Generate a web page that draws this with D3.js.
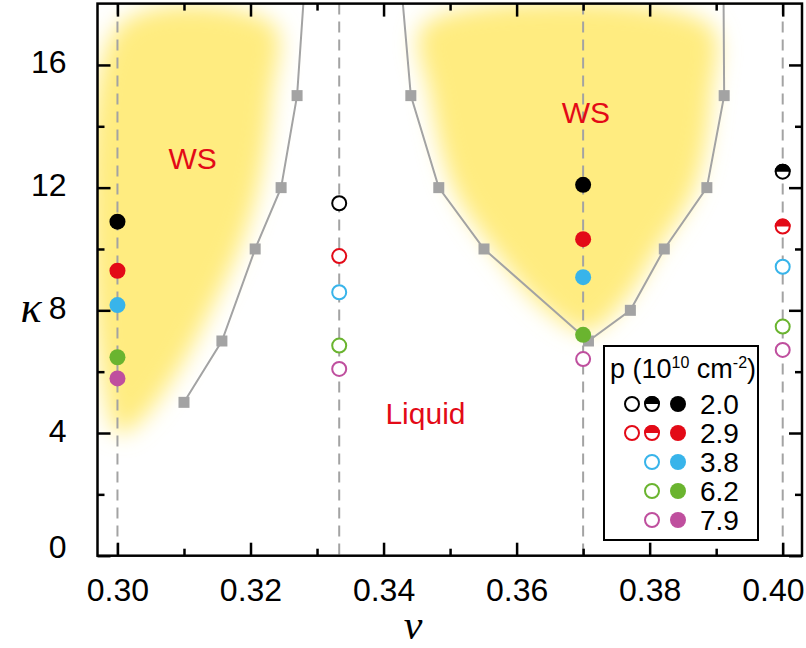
<!DOCTYPE html>
<html>
<head>
<meta charset="utf-8">
<script src="https://cdn.jsdelivr.net/npm/d3@7"></script>
<style>
  body { margin: 0; background: #fff; }
  svg { display: block; font-family: "Liberation Sans", Arial, Helvetica, sans-serif; }
</style>
</head>
<body>
<div id="chart"></div>
<script>
/*
 * Phase diagram: kappa vs filling factor nu, with Wigner-solid (WS)
 * regions, boundary points and measured states for five densities.
 */

// filling factors where the states were measured
const nuColumns = [0.30, 1 / 3, 0.37, 0.40];

// densities p (10^10 cm^-2), one series each
const densities = ['2.0', '2.9', '3.8', '6.2', '7.9'];

// kappa of each series at each nu column
const kappa20 = [10.89, 11.49, 12.09, 12.52];
const kappa29 = [9.29, 9.77, 10.32, 10.73];
const kappa38 = [8.17, 8.59, 9.08, 9.42];
const kappa62 = [6.47, 6.85, 7.20, 7.47];
const kappa79 = [5.78, 6.09, 6.41, 6.71];

// state of each series at each nu column
const state20 = ['solid', 'liquid', 'solid', 'half'];
const state29 = ['solid', 'liquid', 'solid', 'half'];
const state38 = ['solid', 'liquid', 'solid', 'liquid'];
const state62 = ['solid', 'liquid', 'solid', 'liquid'];
const state79 = ['solid', 'liquid', 'liquid', 'liquid'];

// boundary points (gray squares)
const leftBoundaryNu = [0.3100, 0.3157, 0.3207, 0.3246, 0.3270];
const leftBoundaryKappa = [5, 7, 10, 12, 15];
const midBoundaryNu = [0.3441, 0.3483, 0.3551, 0.3708, 0.3771, 0.3822, 0.3886, 0.3912];
const midBoundaryKappa = [15, 12, 10, 7, 8, 10, 12, 15];

// where the boundary lines leave the top of the plot
const leftBoundaryTopNu = [0.3281];
const midBoundaryTopNu = [0.3427, 0.3911];

// WS regions (shaded)
const wsLeftNu = [0.3003, 0.3235, 0.3232, 0.3212, 0.3183, 0.3140, 0.3090, 0.3030, 0.3000];
const wsLeftKappa = [17.3, 17.3, 15, 12, 10, 8, 6, 4.3, 4.0];
const wsMidNu = [0.3460, 0.3890, 0.3893, 0.3868, 0.3812, 0.3762, 0.3708, 0.3645, 0.3565, 0.3505, 0.3470];
const wsMidKappa = [17.3, 17.3, 15, 12, 10, 8.3, 7.3, 8.0, 10, 12, 15];

// axes
const xTicks = [0.30, 0.32, 0.34, 0.36, 0.38, 0.40];
const xMinorTicks = [0.31, 0.33, 0.35, 0.37, 0.39];
const yTicks = [0, 4, 8, 12, 16];
const yMinorTicks = [2, 6, 10, 14];

const WIDTH = 806;
const HEIGHT = 648;
const PLOT_LEFT = 97.5;
const PLOT_RIGHT = 802;
const PLOT_TOP = 3.6;
const PLOT_BOT = 555.7;

const colors = ['#000000', '#e30a17', '#38b4ea', '#6ab42f', '#bf4f9e'];
const GRAY = '#a3a3a3';
const YELLOW = '#ffec80';
const RED_TEXT = '#e30a17';

const x = d3.scaleLinear().domain([0.297, 0.4029]).range([PLOT_LEFT, PLOT_RIGHT]);
const y = d3.scaleLinear().domain([0, 18]).range([PLOT_BOT, PLOT_TOP]);

const svg = d3.select('#chart')
  .append('svg')
    .attr('width', WIDTH)
    .attr('height', HEIGHT);

// clip + blur
const defs = svg.append('defs');
defs.append('clipPath')
    .attr('id', 'plot-clip')
  .append('rect')
    .attr('x', PLOT_LEFT)
    .attr('y', PLOT_TOP)
    .attr('width', PLOT_RIGHT - PLOT_LEFT)
    .attr('height', PLOT_BOT - PLOT_TOP);
defs.append('filter')
    .attr('id', 'soft')
    .attr('x', '-20%').attr('y', '-20%')
    .attr('width', '140%').attr('height', '140%')
  .append('feGaussianBlur')
    .attr('stdDeviation', 11);

const plot = svg.append('g').attr('clip-path', 'url(#plot-clip)');

// shaded WS regions
const area = d3.line().x(d => x(d[0])).y(d => y(d[1])).curve(d3.curveCatmullRomClosed);
[[wsLeftNu, wsLeftKappa], [wsMidNu, wsMidKappa]].forEach(([nu, ka]) => {
  plot.append('path')
      .attr('d', area(d3.zip(nu, ka)))
      .attr('fill', YELLOW)
      .attr('filter', 'url(#soft)');
});

// dashed guides at measured nu
plot.selectAll('.guide')
  .data(nuColumns)
  .enter()
  .append('line')
    .attr('class', 'guide')
    .attr('x1', d => x(d)).attr('x2', d => x(d))
    .attr('y1', PLOT_TOP).attr('y2', PLOT_BOT)
    .attr('stroke', GRAY)
    .attr('stroke-width', 2)
    .attr('stroke-dasharray', '11,7');

// boundary lines
const line = d3.line().x(d => x(d[0])).y(d => y(d[1]));
const leftLine = d3.zip(leftBoundaryNu, leftBoundaryKappa).concat([[leftBoundaryTopNu[0], 18.5]]);
const midLine = [[midBoundaryTopNu[0], 18.5]]
  .concat(d3.zip(midBoundaryNu, midBoundaryKappa))
  .concat([[midBoundaryTopNu[1], 18.5]]);
[leftLine, midLine].forEach(pts => {
  plot.append('path')
      .attr('d', line(pts))
      .attr('fill', 'none')
      .attr('stroke', GRAY)
      .attr('stroke-width', 2);
});

// boundary squares
const SQ = 11;
plot.selectAll('.bsq')
  .data(d3.zip(leftBoundaryNu.concat(midBoundaryNu), leftBoundaryKappa.concat(midBoundaryKappa)))
  .enter()
  .append('rect')
    .attr('class', 'bsq')
    .attr('x', d => x(d[0]) - SQ / 2)
    .attr('y', d => y(d[1]) - SQ / 2)
    .attr('width', SQ)
    .attr('height', SQ)
    .attr('fill', GRAY);

// region labels
const labels = [['WS', 0.3113, 12.6], ['WS', 0.3704, 14.1], ['Liquid', 0.3463, 4.3]];
svg.selectAll('.region')
  .data(labels)
  .enter()
  .append('text')
    .attr('class', 'region')
    .attr('x', d => x(d[1]))
    .attr('y', d => y(d[2]))
    .attr('text-anchor', 'middle')
    .attr('font-size', 30)
    .attr('fill', RED_TEXT)
    .text(d => d[0]);

// markers
const R = 8;
const halfArc = d3.arc().innerRadius(0).outerRadius(R).startAngle(-Math.PI / 2).endAngle(Math.PI / 2);

const drawMarker = (g, state, color, r) => {
  if (state === 'solid') {
    g.append('circle').attr('r', r).attr('fill', color);
  } else {
    g.append('circle')
        .attr('r', r - 1)
        .attr('fill', '#fff')
        .attr('stroke', color)
        .attr('stroke-width', 2);
    if (state === 'half') {
      g.append('path')
          .attr('d', halfArc.outerRadius(r)())
          .attr('fill', color);
    }
  }
};

const series = [
  [kappa20, state20], [kappa29, state29], [kappa38, state38],
  [kappa62, state62], [kappa79, state79]
];
series.forEach(([ka, st], si) => {
  nuColumns.forEach((nu, i) => {
    const g = svg.append('g').attr('transform', `translate(${x(nu)},${y(ka[i])})`);
    drawMarker(g, st[i], colors[si], R);
  });
});

// frame
svg.append('rect')
    .attr('x', PLOT_LEFT).attr('y', PLOT_TOP)
    .attr('width', PLOT_RIGHT - PLOT_LEFT)
    .attr('height', PLOT_BOT - PLOT_TOP)
    .attr('fill', 'none')
    .attr('stroke', '#000')
    .attr('stroke-width', 2.5);

// axes with inward ticks on all four sides
const MAJOR = 13;
const MINOR = 7;
const axisStyle = sel => {
  sel.select('.domain').remove();
  sel.selectAll('.tick line').attr('stroke', '#000').attr('stroke-width', 2.5);
};

svg.append('g')
    .attr('transform', `translate(0,${PLOT_BOT})`)
    .call(d3.axisBottom(x).tickValues(xTicks).tickSize(-MAJOR).tickPadding(MAJOR + 10).tickFormat(d3.format('.2f')))
    .call(axisStyle)
    .call(g => g.selectAll('text').attr('font-size', 32).attr('fill', '#000').attr('font-family', null))
    .call(g => g.selectAll('.tick text').filter(d => d === 0.40)
      .attr('text-anchor', 'end')
      .attr('x', WIDTH - 2 - x(0.40)));
svg.append('g')
    .attr('transform', `translate(0,${PLOT_BOT})`)
    .call(d3.axisBottom(x).tickValues(xMinorTicks).tickSize(-MINOR).tickFormat(''))
    .call(axisStyle);
svg.append('g')
    .attr('transform', `translate(0,${PLOT_TOP})`)
    .call(d3.axisTop(x).tickValues(xTicks).tickSize(-MAJOR).tickFormat(''))
    .call(axisStyle);
svg.append('g')
    .attr('transform', `translate(0,${PLOT_TOP})`)
    .call(d3.axisTop(x).tickValues(xMinorTicks).tickSize(-MINOR).tickFormat(''))
    .call(axisStyle);

svg.append('g')
    .attr('transform', `translate(${PLOT_LEFT},0)`)
    .call(d3.axisLeft(y).tickValues(yTicks).tickSize(-MAJOR).tickPadding(MAJOR + 18))
    .call(axisStyle)
    .call(g => g.selectAll('text')
      .attr('font-size', 32).attr('fill', '#000').attr('font-family', null)
      .attr('dy', d => d === 0 ? '0.05em' : '0.25em'));
svg.append('g')
    .attr('transform', `translate(${PLOT_LEFT},0)`)
    .call(d3.axisLeft(y).tickValues(yMinorTicks).tickSize(-MINOR).tickFormat(''))
    .call(axisStyle);
svg.append('g')
    .attr('transform', `translate(${PLOT_RIGHT},0)`)
    .call(d3.axisRight(y).tickValues(yTicks).tickSize(-MAJOR).tickFormat(''))
    .call(axisStyle);
svg.append('g')
    .attr('transform', `translate(${PLOT_RIGHT},0)`)
    .call(d3.axisRight(y).tickValues(yMinorTicks).tickSize(-MINOR).tickFormat(''))
    .call(axisStyle);

// axis titles
svg.append('text')
    .attr('x', 413)
    .attr('y', 639)
    .attr('text-anchor', 'middle')
    .attr('font-family', '"Liberation Serif", "DejaVu Serif", serif')
    .attr('font-style', 'italic')
    .attr('font-size', 42)
    .text('\u03bd');
svg.append('text')
    .attr('x', 31)
    .attr('y', 322)
    .attr('text-anchor', 'middle')
    .attr('font-family', '"Liberation Serif", "DejaVu Serif", serif')
    .attr('font-style', 'italic')
    .attr('font-size', 44)
    .text('\u03ba');

// legend
const legend = svg.append('g').attr('transform', 'translate(604,346)');
legend.append('rect')
    .attr('width', 154)
    .attr('height', 194)
    .attr('fill', '#fff')
    .attr('stroke', '#000')
    .attr('stroke-width', 2);

const title = legend.append('text')
    .attr('x', 6)
    .attr('y', 32)
    .attr('font-size', 27);
title.append('tspan').text('p (10');
title.append('tspan').attr('font-size', 16).attr('dy', -10).text('10');
title.append('tspan').attr('dy', 10).text(' cm');
title.append('tspan').attr('font-size', 16).attr('dy', -10).text('-2');
title.append('tspan').attr('dy', 10).text(')');

const legendStates = [
  ['liquid', 'half', 'solid'],
  ['liquid', 'half', 'solid'],
  [null, 'liquid', 'solid'],
  [null, 'liquid', 'solid'],
  [null, 'liquid', 'solid']
];
const legendCols = [28, 48, 74];
densities.forEach((p, i) => {
  const rowY = 58 + i * 29;
  legendStates[i].forEach((st, j) => {
    if (!st) return;
    const g = legend.append('g').attr('transform', `translate(${legendCols[j]},${rowY})`);
    drawMarker(g, st, colors[i], 8);
  });
  legend.append('text')
      .attr('x', 96)
      .attr('y', rowY)
      .attr('dy', '0.36em')
      .attr('font-size', 28)
      .text(p);
});
</script>
</body>
</html>
